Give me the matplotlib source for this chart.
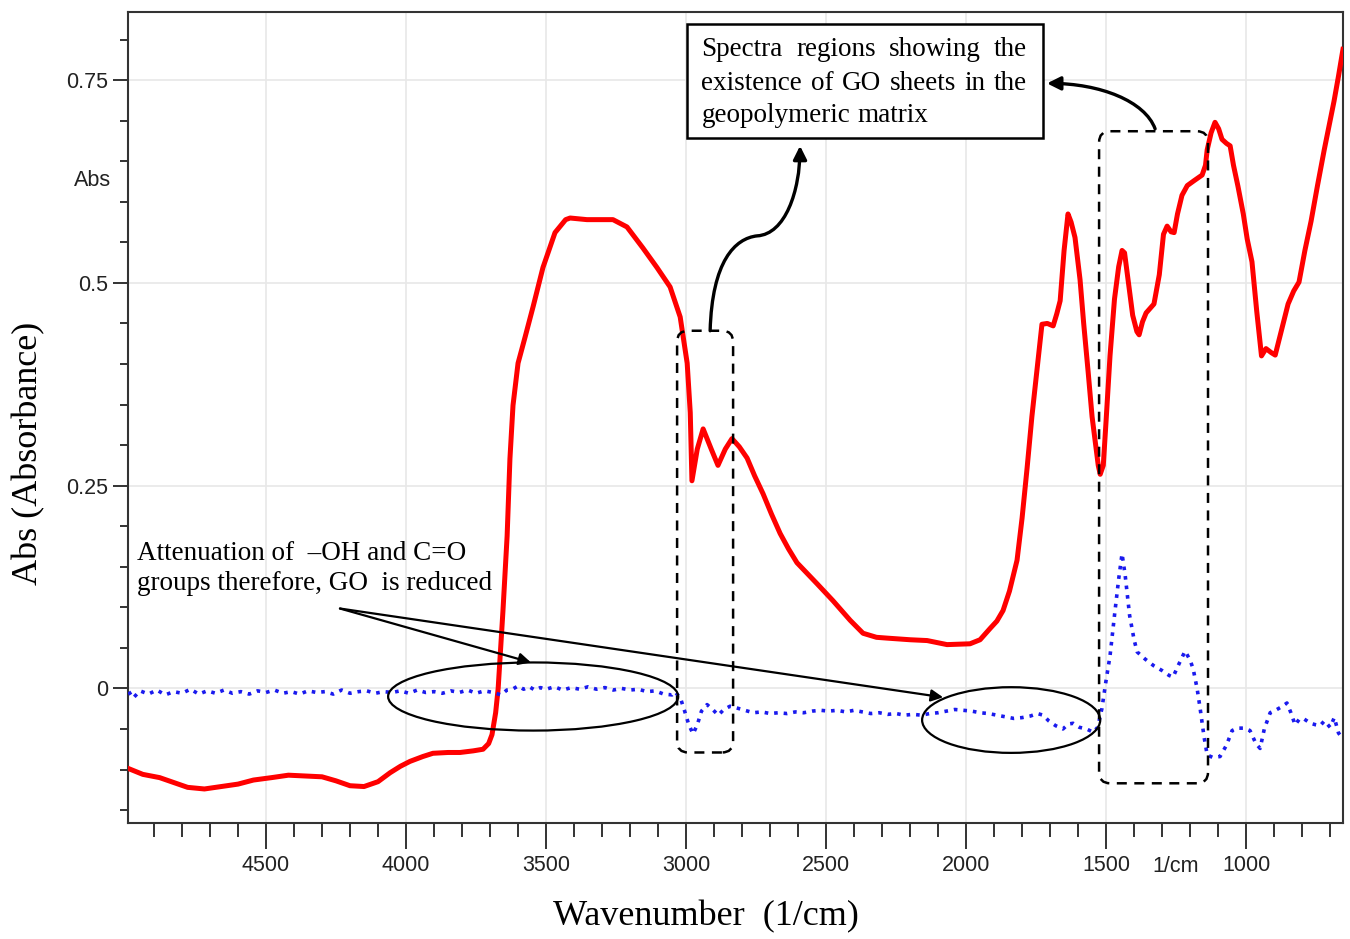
import numpy as np
import matplotlib
matplotlib.use("Agg")
import matplotlib.pyplot as plt
from matplotlib.patches import Ellipse, FancyBboxPatch, FancyArrowPatch, Rectangle
from matplotlib.path import Path
from matplotlib.ticker import MultipleLocator

# FTIR absorbance spectra
# red: geopolymer with GO, blue: difference spectrum
red_wn = [4990, 4940, 4880, 4830, 4780, 4720, 4660, 4600, 4545, 4480, 4420, 4360, 4300,
          4250, 4200, 4150, 4100, 4057, 4020, 3986, 3940, 3904, 3850, 3807, 3760, 3725,
          3705, 3693, 3680, 3671, 3662, 3654, 3645, 3639, 3629, 3618, 3600, 3575, 3546,
          3511, 3468, 3430, 3414, 3354, 3261, 3211, 3154, 3104, 3057, 3021, 2996, 2985,
          2979, 2960, 2939, 2910, 2886, 2860, 2836, 2810, 2782, 2755, 2725, 2695, 2664,
          2634, 2604, 2568, 2532, 2475, 2414, 2368, 2320, 2282, 2200, 2139, 2068, 1986,
          1950, 1914, 1890, 1868, 1845, 1818, 1800, 1782, 1765, 1746, 1729, 1710, 1689,
          1676, 1664, 1650, 1636, 1625, 1611, 1593, 1580, 1564, 1550, 1539, 1528, 1521,
          1510, 1500, 1486, 1470, 1455, 1443, 1434, 1420, 1405, 1390, 1382, 1370, 1357,
          1329, 1310, 1295, 1282, 1268, 1257, 1245, 1229, 1210, 1186, 1157, 1145, 1139,
          1125, 1111, 1098, 1086, 1070, 1057, 1045, 1029, 1010, 996, 979, 962, 945, 929,
          910, 896, 875, 850, 830, 811, 790, 768, 745, 721, 700, 686, 670, 654]
red_abs = [-0.099, -0.106, -0.110, -0.116, -0.122, -0.124, -0.121, -0.118, -0.113, -0.110,
           -0.107, -0.108, -0.109, -0.114, -0.120, -0.121, -0.115, -0.104, -0.096, -0.090,
           -0.084, -0.080, -0.079, -0.079, -0.077, -0.075, -0.068, -0.057, -0.030, 0.000,
           0.050, 0.095, 0.150, 0.188, 0.283, 0.349, 0.401, 0.433, 0.471, 0.519, 0.562,
           0.578, 0.580, 0.578, 0.578, 0.569, 0.543, 0.519, 0.495, 0.458, 0.401, 0.340,
           0.256, 0.295, 0.320, 0.295, 0.275, 0.295, 0.308, 0.298, 0.284, 0.262, 0.240,
           0.215, 0.191, 0.172, 0.155, 0.142, 0.129, 0.108, 0.084, 0.068, 0.063, 0.062,
           0.060, 0.059, 0.054, 0.055, 0.060, 0.074, 0.083, 0.096, 0.120, 0.158, 0.210,
           0.272, 0.335, 0.395, 0.449, 0.450, 0.447, 0.462, 0.478, 0.540, 0.585, 0.575,
           0.556, 0.504, 0.450, 0.390, 0.335, 0.305, 0.275, 0.264, 0.275, 0.330, 0.410,
           0.480, 0.520, 0.540, 0.537, 0.500, 0.460, 0.440, 0.436, 0.452, 0.463, 0.474,
           0.510, 0.560, 0.570, 0.563, 0.562, 0.585, 0.608, 0.620, 0.626, 0.633, 0.645,
           0.664, 0.685, 0.698, 0.690, 0.677, 0.672, 0.669, 0.645, 0.619, 0.585, 0.554,
           0.526, 0.465, 0.410, 0.419, 0.414, 0.411, 0.440, 0.474, 0.490, 0.501, 0.540,
           0.576, 0.620, 0.664, 0.700, 0.724, 0.755, 0.788]

blue_wn = [4990, 4975, 4950, 4920, 4890, 4860, 4830, 4800, 4770, 4740, 4710, 4680, 4650,
           4620, 4590, 4560, 4530, 4500, 4470, 4440, 4410, 4380, 4350, 4320, 4290, 4260,
           4230, 4200, 4170, 4140, 4110, 4080, 4050, 4020, 3990, 3960, 3930, 3900, 3870,
           3840, 3810, 3780, 3750, 3720, 3690, 3660, 3640, 3620, 3600, 3580, 3560, 3540,
           3520, 3500, 3470, 3440, 3410, 3380, 3350, 3320, 3290, 3260, 3230, 3200, 3170,
           3140, 3110, 3080, 3050, 3040, 3020, 3005, 2990, 2975, 2960, 2945, 2925, 2905,
           2885, 2865, 2843, 2820, 2790, 2760, 2730, 2700, 2670, 2640, 2610, 2580, 2550,
           2520, 2490, 2460, 2430, 2400, 2370, 2340, 2310, 2280, 2250, 2220, 2190, 2160,
           2130, 2100, 2070, 2040, 2010, 1980, 1950, 1920, 1890, 1860, 1830, 1800, 1770,
           1745, 1725, 1705, 1680, 1654, 1635, 1618, 1595, 1570, 1546, 1530, 1515, 1500,
           1486, 1470, 1455, 1443, 1432, 1416, 1400, 1389, 1360, 1330, 1300, 1275, 1261,
           1240, 1218, 1200, 1189, 1175, 1164, 1150, 1139, 1120, 1093, 1070, 1050, 1032,
           1005, 986, 965, 950, 935, 914, 890, 870, 854, 840, 825, 810, 796, 770, 750,
           736, 720, 700, 685, 670, 654]
blue_abs = [-0.004, -0.012, -0.003, -0.007, -0.002, -0.008, -0.004, -0.006, -0.001, -0.007,
            -0.003, -0.006, -0.002, -0.006, -0.004, -0.007, -0.003, -0.005, -0.002, -0.006,
            -0.004, -0.007, -0.003, -0.005, -0.004, -0.007, -0.002, -0.006, -0.004, -0.003,
            -0.006, -0.004, -0.005, -0.003, -0.006, -0.002, -0.005, -0.004, -0.006, -0.003,
            -0.005, -0.002, -0.006, -0.003, -0.005, -0.008, -0.002, -0.001, 0.003, -0.001,
            0.002, -0.002, 0.001, -0.001, 0.002, -0.002, 0.001, -0.001, 0.002, -0.001,
            0.001, -0.002, 0.000, -0.002, -0.001, -0.004, -0.003, -0.007, -0.008, -0.004,
            -0.012, -0.028, -0.045, -0.056, -0.045, -0.028, -0.020, -0.026, -0.033, -0.026,
            -0.022, -0.024, -0.027, -0.030, -0.029, -0.031, -0.030, -0.031, -0.029, -0.030,
            -0.028, -0.027, -0.028, -0.027, -0.029, -0.027, -0.029, -0.031, -0.030, -0.032,
            -0.031, -0.033, -0.032, -0.033, -0.031, -0.030, -0.028, -0.026, -0.027, -0.028,
            -0.030, -0.031, -0.033, -0.035, -0.037, -0.036, -0.034, -0.031, -0.033, -0.040,
            -0.046, -0.050, -0.044, -0.043, -0.048, -0.050, -0.054, -0.048, -0.025, 0.010,
            0.040, 0.090, 0.135, 0.166, 0.140, 0.090, 0.060, 0.045, 0.036, 0.028, 0.022,
            0.016, 0.014, 0.030, 0.046, 0.035, 0.024, 0.000, -0.025, -0.060, -0.082, -0.085,
            -0.084, -0.070, -0.052, -0.049, -0.049, -0.052, -0.068, -0.074, -0.050, -0.030,
            -0.026, -0.022, -0.018, -0.030, -0.045, -0.038, -0.037, -0.043, -0.045, -0.046,
            -0.040, -0.048, -0.036, -0.055, -0.062]

x_major = [4500, 4000, 3500, 3000, 2500, 2000, 1500, 1000]
y_major = [0, 0.25, 0.5, 0.75]
y_labels = ["0", "0.25", "0.5", "0.75"]

serif = ["Liberation Serif", "DejaVu Serif"]
narrow = ["Liberation Sans", "DejaVu Sans"]
tick_color = "#333333"

fig = plt.figure(figsize=(13.5, 9.39), dpi=100)
ax = fig.add_axes([0.0948, 0.1235, 0.9, 0.8637])

ax.plot(red_wn, red_abs, color="#ff0000", lw=3.6, zorder=3, solid_joinstyle="round")
ax.plot(blue_wn, blue_abs, color="#1a1aee", lw=2.6, ls=":", zorder=3)

ax.set_xlim(4993, 654)
ax.set_ylim(-0.166, 0.834)

# ticks
ax.set_xticks(x_major)
ax.set_xticklabels([str(v) for v in x_major])
ax.xaxis.set_minor_locator(MultipleLocator(100))
ax.set_yticks(y_major)
ax.set_yticklabels(y_labels)
ax.yaxis.set_minor_locator(MultipleLocator(0.05))
ax.tick_params(axis="x", which="major", length=19, width=1.4, pad=4, colors=tick_color)
ax.tick_params(axis="x", which="minor", length=10, width=1.4, colors=tick_color)
ax.tick_params(axis="y", which="major", length=11, width=1.4, pad=3, colors=tick_color)
ax.tick_params(axis="y", which="minor", length=5.5, width=1.4, colors=tick_color)
for lab in ax.get_xticklabels() + ax.get_yticklabels():
    lab.set_family(narrow)
    lab.set_fontsize(15.5)
    lab.set_color("#222222")

ax.text(1250, -0.053, "1/cm", transform=ax.get_xaxis_transform(), ha="center", va="center",
        family=narrow, fontsize=15.5, color="#222222")
ax.text(-0.014, 0.626, "Abs", transform=ax.get_yaxis_transform(), ha="right", va="center",
        family=narrow, fontsize=15.5, color="#222222")

ax.grid(True, which="major", color="#e8e8e8", lw=1.2, zorder=0)
for sp in ax.spines.values():
    sp.set_color("#333333")
    sp.set_linewidth(1.5)

ax.set_xlabel("Wavenumber  (1/cm)", family=serif, fontsize=26)
ax.xaxis.set_label_coords(0.476, -0.115)
ax.xaxis.label.set_va("center")
ax.set_ylabel("Abs (Absorbance)", family=serif, fontsize=26)
ax.yaxis.set_label_coords(-0.082, 0.456)
ax.yaxis.label.set_va("center")

# dashed rounded boxes around GO regions
aspect = 0.0123 / 36
for x0, x1, y0, y1 in [(2832, 3032, -0.079, 0.441), (1136, 1525, -0.117, 0.687)]:
    ax.add_patch(FancyBboxPatch((x0, y0), x1 - x0, y1 - y0,
                                boxstyle="round,pad=0,rounding_size=40", mutation_aspect=aspect,
                                fill=False, ec="black", lw=1.8, ls=(0, (4, 3)), zorder=4))

# ellipses around attenuated bands
ax.add_patch(Ellipse((3546, -0.010), 1036, 0.084, fill=False, ec="black", lw=1.6, zorder=4))
ax.add_patch(Ellipse((1839, -0.039), 636, 0.081, fill=False, ec="black", lw=1.6, zorder=4))

ax.text(4961, 0.182, "Attenuation of  \u2013OH and C=O\ngroups therefore, GO  is reduced",
        family=serif, fontsize=19.5, ha="left", va="top", linespacing=1.27, zorder=5)
for tip in [(3554, 0.032), (2082, -0.011)]:
    ax.annotate("", xy=tip, xytext=(4236, 0.0985),
                arrowprops=dict(arrowstyle="-|>", lw=1.6, color="black", mutation_scale=18,
                                shrinkA=0, shrinkB=0), zorder=5)

# text box with justified text
ax.add_patch(Rectangle((1725, 0.679), 2996 - 1725, 0.819 - 0.679, fill=True, fc="white",
                       ec="black", lw=1.8, zorder=5))
box_lines = [("Spectra regions showing the", 0.788, True),
             ("existence of GO sheets in the", 0.746, True),
             ("geopolymeric matrix", 0.706, False)]
renderer = fig.canvas.get_renderer()
for line, yv, justify in box_lines:
    words = line.split()
    texts = [ax.text(2945, yv, w, family=serif, fontsize=19.5, ha="left", va="center", zorder=6)
             for w in words]
    left = ax.transData.transform((2945, yv))
    right = ax.transData.transform((1782, yv))
    widths = [t.get_window_extent(renderer).width for t in texts]
    space = texts[0].get_window_extent(renderer).height * 0.28
    gap = (right[0] - left[0] - sum(widths)) / (len(words) - 1) if justify else space
    pos = left[0]
    for t, w in zip(texts, widths):
        t.set_position(ax.transData.inverted().transform((pos, left[1])))
        pos += w + gap

# curved arrows pointing at the text box
s_path = Path([(2914, 0.441), (2907, 0.527), (2825, 0.555), (2746, 0.558),
               (2646, 0.560), (2593, 0.613), (2593, 0.669)],
              [Path.MOVETO, Path.CURVE4, Path.CURVE4, Path.CURVE4,
               Path.CURVE4, Path.CURVE4, Path.CURVE4])
ax.add_patch(FancyArrowPatch(path=s_path, arrowstyle="-|>", mutation_scale=20, lw=2.4,
                             color="black", zorder=6))
c_path = Path([(1325, 0.690), (1361, 0.724), (1521, 0.746), (1711, 0.746)],
              [Path.MOVETO, Path.CURVE4, Path.CURVE4, Path.CURVE4])
ax.add_patch(FancyArrowPatch(path=c_path, arrowstyle="-|>", mutation_scale=20, lw=2.4,
                             color="black", zorder=6))

plt.savefig("out.png", dpi=100)
plt.close()
